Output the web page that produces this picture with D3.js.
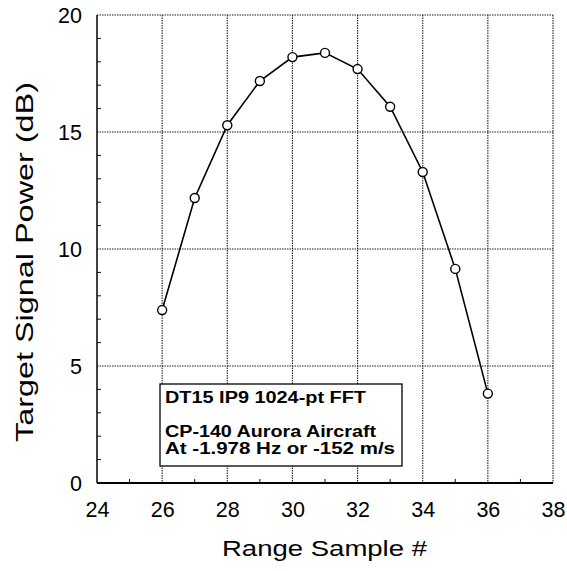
<!DOCTYPE html>
<html><head><meta charset="utf-8">
<script src="https://cdn.jsdelivr.net/npm/d3@7"></script>
<style>body{margin:0;background:#fff}svg{display:block}</style>
</head><body><svg id="c" width="567" height="571"></svg>
<script>
const rangeSamples = [26, 27, 28, 29, 30, 31, 32, 33, 34, 35, 36];
const powerDb = [7.39, 12.18, 15.29, 17.18, 18.2, 18.38, 17.69, 16.08, 13.29, 9.15, 3.82];
const xTicks = [24, 26, 28, 30, 32, 34, 36, 38];
const yTicks = [0, 5, 10, 15, 20];
const annotation = ["DT15 IP9 1024-pt FFT", "", "CP-140 Aurora Aircraft", "At -1.978 Hz or -152 m/s"];

const svg = d3.select("#c");
const L = 97, R = 553, T = 15, B = 483;
const x = d3.scaleLinear().domain([24, 38]).range([L, R]);
const y = d3.scaleLinear().domain([0, 20]).range([B, T]);
const font = "'Liberation Sans', Arial, sans-serif";

// grid (includes dotted top and right frame)
const g = svg.append("g");
g.selectAll("line.gx").data(xTicks.slice(1)).join("line")
  .attr("x1", d => x(d)).attr("x2", d => x(d)).attr("y1", T).attr("y2", B)
  .attr("stroke", "#222").attr("stroke-width", 1.1).attr("stroke-dasharray", "1.5,1");
g.selectAll("line.gy").data(yTicks.slice(1)).join("line")
  .attr("x1", L).attr("x2", R).attr("y1", d => y(d)).attr("y2", d => y(d))
  .attr("stroke", "#222").attr("stroke-width", 1.1).attr("stroke-dasharray", "1.5,1");

// minor ticks
const yMinor = d3.range(1, 20).filter(v => v % 5 !== 0);
g.selectAll("line.my").data(yMinor).join("line")
  .attr("x1", L).attr("x2", L + 4).attr("y1", d => y(d)).attr("y2", d => y(d))
  .attr("stroke", "#111").attr("stroke-width", 1);
const xMinor = d3.range(25, 38, 2);
g.selectAll("line.mx").data(xMinor).join("line")
  .attr("x1", d => x(d)).attr("x2", d => x(d)).attr("y1", B).attr("y2", B - 4)
  .attr("stroke", "#111").attr("stroke-width", 1);

// frame
svg.append("line").attr("x1", L).attr("x2", L).attr("y1", T).attr("y2", B).attr("stroke", "#000").attr("stroke-width", 1.5);
svg.append("line").attr("x1", L).attr("x2", R).attr("y1", B).attr("y2", B).attr("stroke", "#000").attr("stroke-width", 1.8);

// axes labels via d3 axes
const xAxis = svg.append("g").attr("transform", `translate(0,${B})`)
  .call(d3.axisBottom(x).tickValues(xTicks).tickSize(0));
xAxis.select(".domain").remove();
xAxis.selectAll("text").attr("font-family", font).attr("font-size", 21.5).attr("fill", "#000")
  .attr("y", 34).attr("dy", null);
const yAxis = svg.append("g").attr("transform", `translate(${L},0)`)
  .call(d3.axisLeft(y).tickValues(yTicks).tickSize(0).tickPadding(15));
yAxis.select(".domain").remove();
yAxis.selectAll("text").attr("font-family", font).attr("font-size", 21.5).attr("fill", "#000").attr("dy", "0.36em");

// titles
svg.append("text").attr("x", 222).attr("y", 556)
  .attr("font-family", font).attr("font-size", 21.5)
  .attr("textLength", 205).attr("lengthAdjust", "spacingAndGlyphs").text("Range Sample #");
svg.append("text").attr("transform", "translate(33,442) rotate(-90)")
  .attr("font-family", font).attr("font-size", 24.5)
  .attr("textLength", 360).attr("lengthAdjust", "spacingAndGlyphs").text("Target Signal Power (dB)");

// line + markers
const line = d3.line().x((d, i) => x(rangeSamples[i])).y(d => y(d));
svg.append("path").datum(powerDb).attr("d", line).attr("fill", "none").attr("stroke", "#000").attr("stroke-width", 1.6);
svg.selectAll("circle.pt").data(powerDb).join("circle")
  .attr("cx", (d, i) => x(rangeSamples[i])).attr("cy", d => y(d)).attr("r", 4.5)
  .attr("fill", "#fff").attr("stroke", "#000").attr("stroke-width", 1.4);

// annotation box
svg.append("rect").attr("x", 160).attr("y", 384).attr("width", 242).attr("height", 82)
  .attr("fill", "#fff").attr("stroke", "#000").attr("stroke-width", 1.3);
const ys = [403, 420, 437, 454];
const lens = [201, 0, 211, 230];
svg.selectAll("text.ann").data(annotation).join("text")
  .attr("x", 165).attr("y", (d, i) => ys[i])
  .attr("font-family", font).attr("font-size", 16).attr("font-weight", "bold").attr("fill", "#000")
  .each(function(d, i) { if (d) d3.select(this).attr("textLength", lens[i]).attr("lengthAdjust", "spacingAndGlyphs"); })
  .text(d => d);
</script></body></html>
